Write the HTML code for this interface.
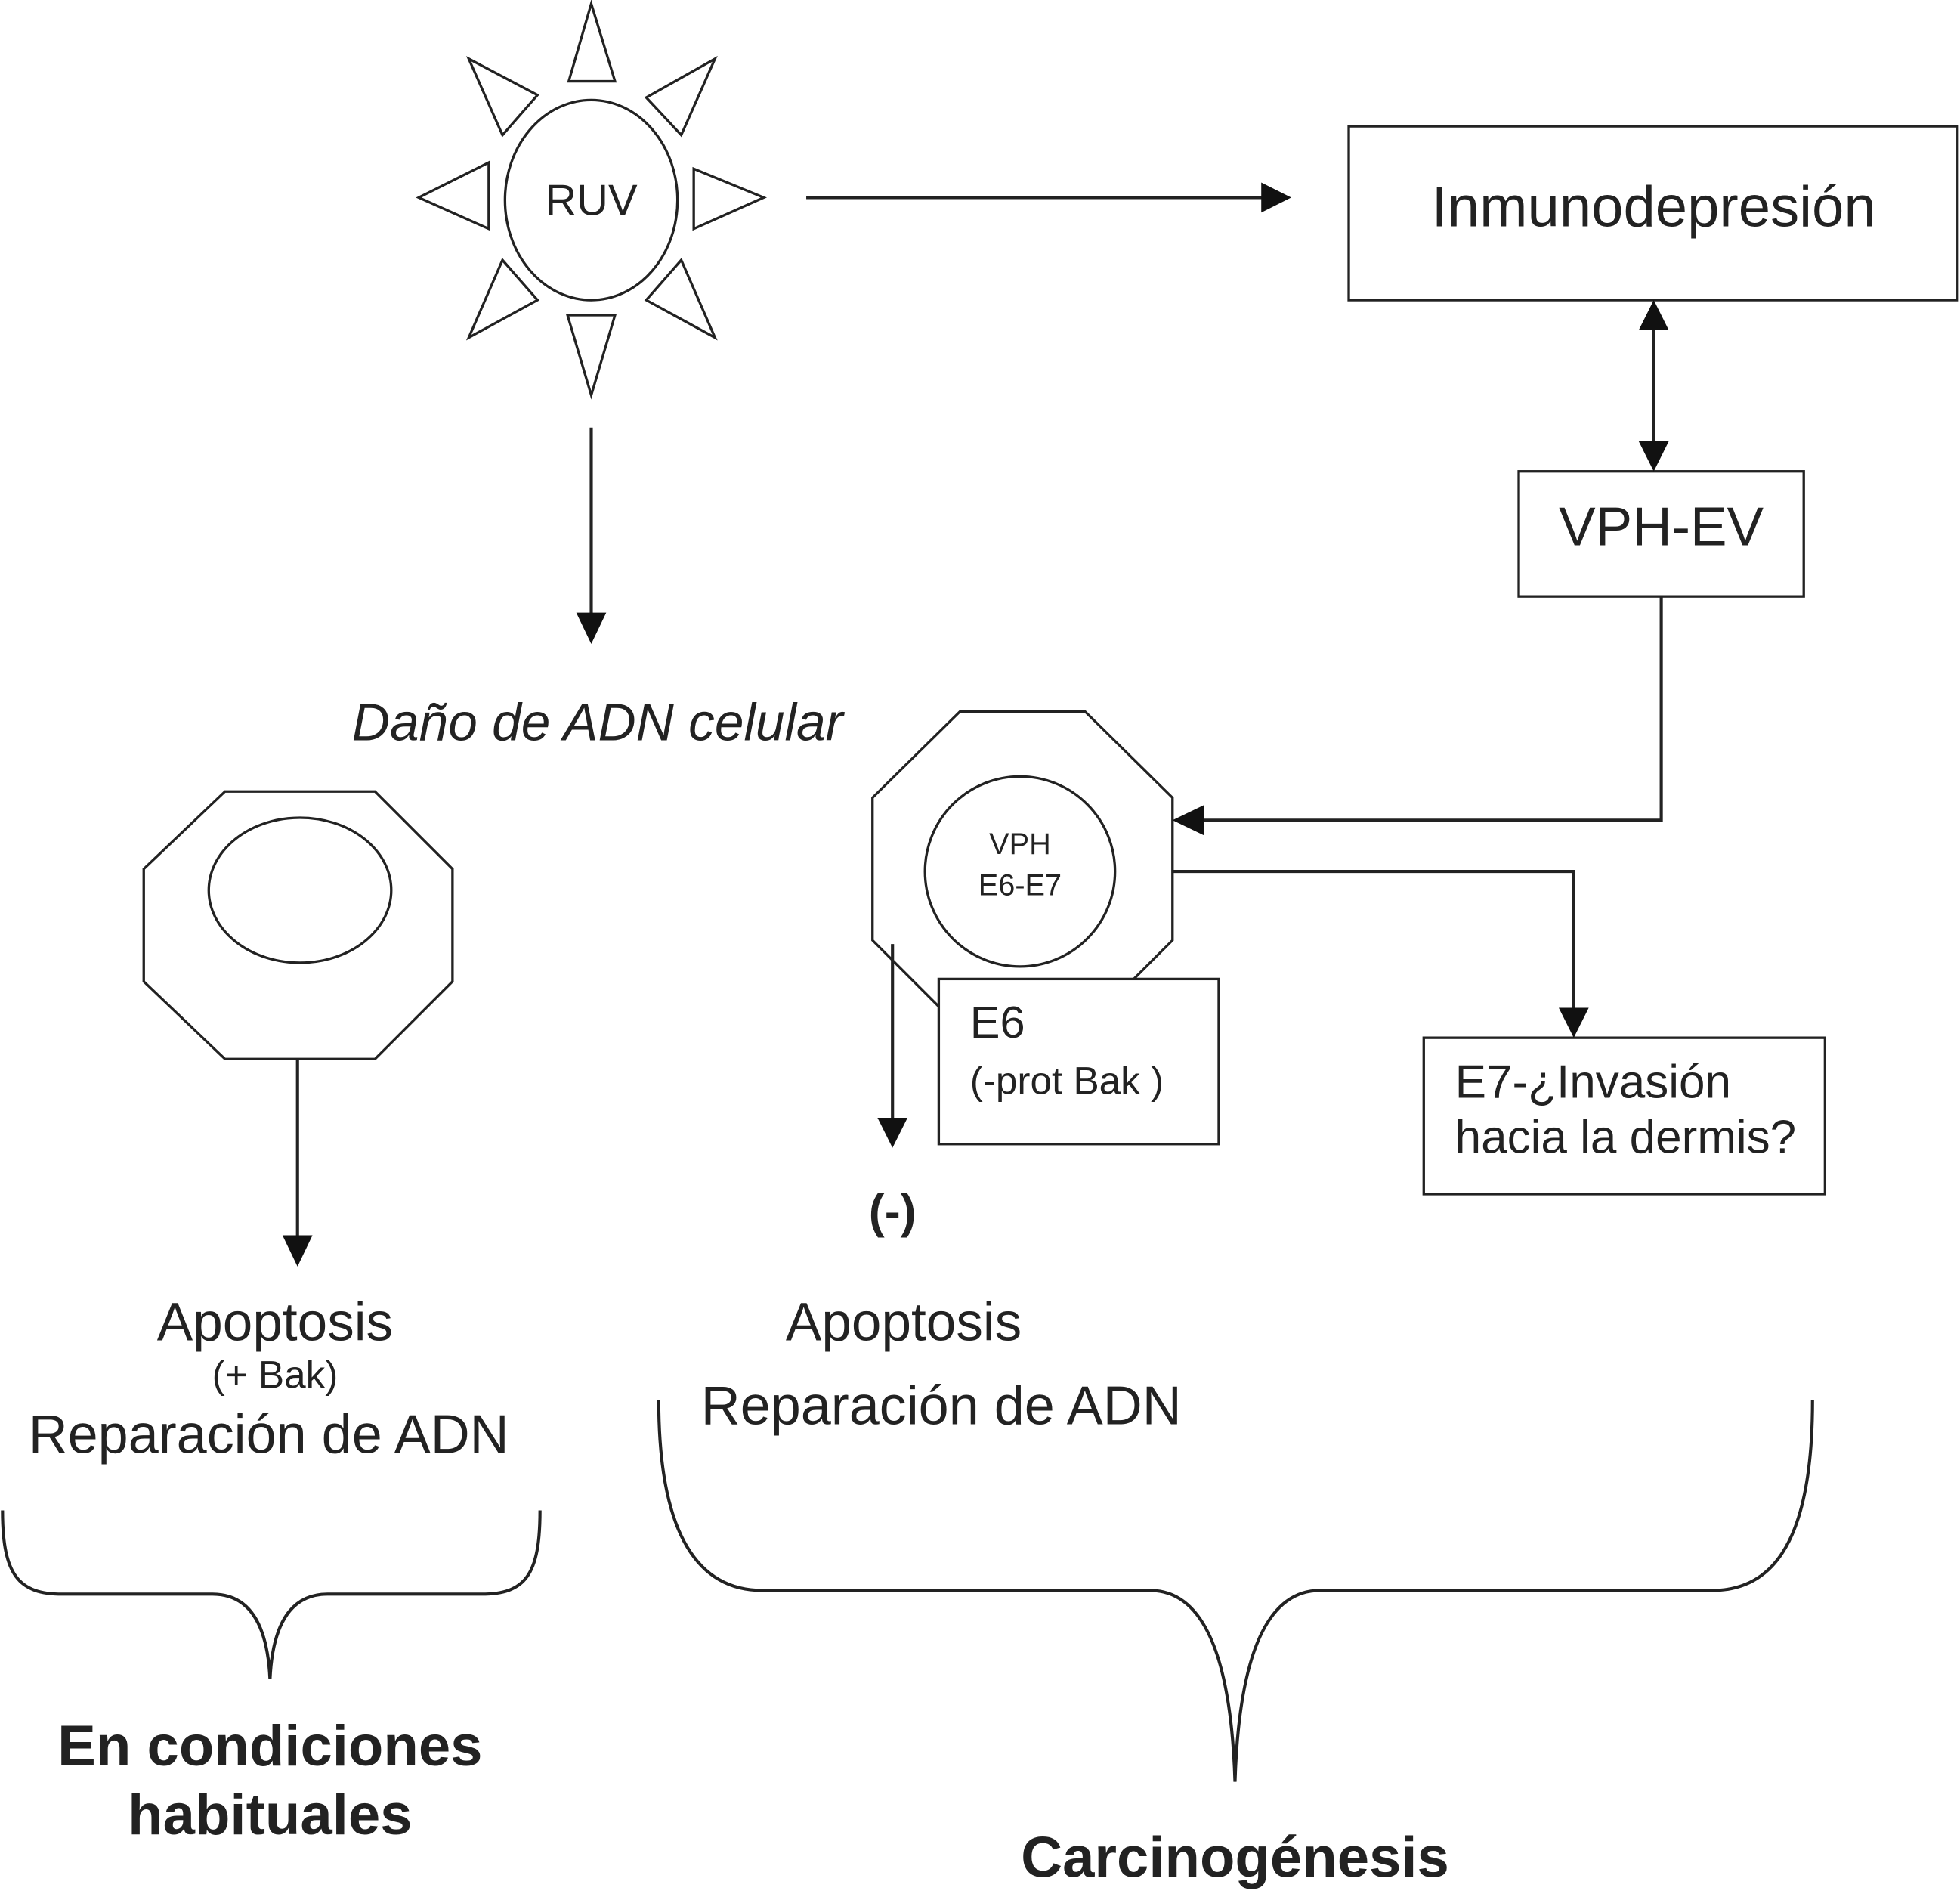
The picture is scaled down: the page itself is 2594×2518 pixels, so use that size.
<!DOCTYPE html>
<html><head><meta charset="utf-8"><style>html,body{margin:0;padding:0;background:#fff}svg{display:block}</style></head>
<body>
<svg width="2594" height="2518" viewBox="0 0 1568 1522" preserveAspectRatio="none" xmlns="http://www.w3.org/2000/svg" font-family="Liberation Sans, Arial, sans-serif">
<g fill="#fff" stroke="#222" stroke-width="2">
<ellipse cx="473" cy="160" rx="69" ry="80"/>
<polygon points="473,3 455,65 492,65"/>
<polygon points="473,316 454,252 492,252"/>
<polygon points="335,158 391,130 391,183"/>
<polygon points="611,158 555,135 555,183"/>
<polygon points="375,47 430,76 402,108"/>
<polygon points="572,47 517,78 545,108"/>
<polygon points="375,270 402,208 430,240"/>
<polygon points="572,270 545,208 517,240"/>
<rect x="1079" y="101" width="487" height="139"/>
<rect x="1215" y="377" width="228" height="100"/>
<polygon points="180,633 300,633 362,695 362,785 300,847 180,847 115,785 115,695"/>
<ellipse cx="240" cy="712" rx="73" ry="58"/>
<polygon points="768,569 868,569 938,638 938,752 868,822 768,822 698,752 698,638"/>
<circle cx="816" cy="697" r="76"/>
<rect x="751" y="783" width="224" height="132"/>
<rect x="1139" y="830" width="321" height="125"/>
</g>
<g stroke="#222" stroke-width="2.5" fill="none">
<line x1="645" y1="158" x2="1012" y2="158"/>
<line x1="1323" y1="262" x2="1323" y2="355"/>
<polyline points="1329,477 1329,656 962,656"/>
<line x1="473" y1="342" x2="473" y2="492"/>
<line x1="238" y1="847" x2="238" y2="990"/>
<polyline points="938,697 1259,697 1259,808"/>
<line x1="714" y1="755" x2="714" y2="896"/>
<path d="M2,1208 C2,1260 15,1275 50,1275 L170,1275 C200,1275 214,1300 216,1343 C218,1300 232,1275 262,1275 L385,1275 C420,1275 432,1260 432,1208"/>
<path d="M527,1120 C527,1230 560,1272 610,1272 L920,1272 C965,1272 985,1330 988,1425 C991,1330 1011,1272 1056,1272 L1370,1272 C1420,1272 1450,1230 1450,1120"/>
</g>
<g fill="#111">
<polygon points="1033,158 1009,146 1009,170"/>
<polygon points="1323,240 1311,264 1335,264"/>
<polygon points="1323,377 1311,353 1335,353"/>
<polygon points="938,656 963,644 963,668"/>
<polygon points="473,515 461,490 485,490"/>
<polygon points="238,1013 226,988 250,988"/>
<polygon points="1259,830 1247,806 1271,806"/>
<polygon points="714,918 702,894 726,894"/>
</g>
<g fill="#222" text-anchor="middle">
<text x="473" y="172" font-size="35">RUV</text>
<text x="1323" y="181" font-size="46">Inmunodepresión</text>
<text x="1329" y="436" font-size="44">VPH-EV</text>
<text x="478" y="592" font-size="42" font-style="italic">Daño de ADN celular</text>
<text x="816" y="683" font-size="24">VPH</text>
<text x="816" y="716" font-size="24">E6-E7</text>
<text x="776" y="830" font-size="36" text-anchor="start">E6</text>
<text x="776" y="875" font-size="31" text-anchor="start">(-prot Bak )</text>
<text x="1164" y="878" font-size="37.5" text-anchor="start">E7-¿Invasión</text>
<text x="1164" y="922" font-size="37.5" text-anchor="start">hacia la dermis?</text>
<text x="714" y="982" font-size="38" font-weight="bold">(-)</text>
<text x="220" y="1072" font-size="43">Apoptosis</text>
<text x="220" y="1110" font-size="31">(+ Bak)</text>
<text x="215" y="1162" font-size="43.5">Reparación de ADN</text>
<text x="723" y="1072" font-size="43">Apoptosis</text>
<text x="753" y="1139" font-size="43.5">Reparación de ADN</text>
<text x="216" y="1412" font-size="46" font-weight="bold">En condiciones</text>
<text x="216" y="1467" font-size="46" font-weight="bold">habituales</text>
<text x="988" y="1501" font-size="46" font-weight="bold">Carcinogénesis</text>
</g>
</svg>
</body></html>
